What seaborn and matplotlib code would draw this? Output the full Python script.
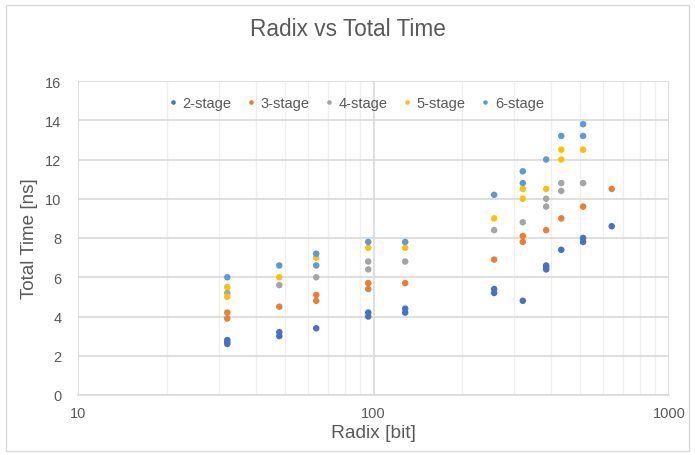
import matplotlib
matplotlib.use("Agg")
import matplotlib.pyplot as plt
import seaborn as sns
import pandas as pd
from matplotlib.patches import Rectangle
from matplotlib.ticker import LogLocator, FixedLocator, NullFormatter, FuncFormatter

# ---- data ----
series_names = ["2-stage", "3-stage", "4-stage", "5-stage", "6-stage"]
colors = ["#4472C4", "#ED7D31", "#A5A5A5", "#FFC000", "#5B9BD5"]

radix_2 = [32, 32, 32, 48, 48, 64, 96, 96, 128, 128, 256, 256, 320, 384, 384, 384, 432, 512, 512, 640]
time_2 = [2.8, 2.7, 2.6, 3.2, 3.0, 3.4, 4.2, 4.0, 4.4, 4.2, 5.4, 5.2, 4.8, 6.6, 6.5, 6.4, 7.4, 8.0, 7.8, 8.6]

radix_3 = [32, 32, 48, 64, 64, 96, 96, 128, 256, 320, 320, 384, 432, 512, 640]
time_3 = [4.2, 3.9, 4.5, 5.1, 4.8, 5.7, 5.4, 5.7, 6.9, 8.1, 7.8, 8.4, 9.0, 9.6, 10.5]

radix_4 = [32, 48, 64, 96, 96, 128, 256, 320, 384, 384, 432, 432, 512]
time_4 = [5.2, 5.6, 6.0, 6.8, 6.4, 6.8, 8.4, 8.8, 10.0, 9.6, 10.8, 10.4, 10.8]

radix_5 = [32, 32, 48, 64, 96, 128, 256, 320, 320, 384, 432, 432, 512]
time_5 = [5.5, 5.0, 6.0, 7.0, 7.5, 7.5, 9.0, 10.5, 10.0, 10.5, 12.5, 12.0, 12.5]

radix_6 = [32, 48, 64, 64, 96, 128, 256, 320, 320, 384, 432, 512, 512]
time_6 = [6.0, 6.6, 7.2, 6.6, 7.8, 7.8, 10.2, 11.4, 10.8, 12.0, 13.2, 13.8, 13.2]

x_ticks = [10, 100, 1000]
y_ticks = [0, 2, 4, 6, 8, 10, 12, 14, 16]

title = "Radix vs Total Time"
x_label = "Radix [bit]"
y_label = "Total Time [ns]"

# ---- build table ----
frames = []
for name, xs, ys in zip(series_names,
                        [radix_2, radix_3, radix_4, radix_5, radix_6],
                        [time_2, time_3, time_4, time_5, time_6]):
    frames.append(pd.DataFrame({"Radix": xs, "Time": ys, "Series": name}))
df = pd.concat(frames, ignore_index=True)

sns.set_theme(style="white")
plt.rcParams["font.family"] = ["Liberation Sans", "DejaVu Sans"]
text_color = "#595959"

fig = plt.figure(figsize=(6.95, 4.56), dpi=100)
ax = fig.add_axes([78 / 695, 60 / 456, (669 - 78) / 695, (396 - 82) / 456])

sns.scatterplot(data=df, x="Radix", y="Time", hue="Series", hue_order=series_names,
                palette=colors, s=22, linewidth=0, ax=ax, legend=True, zorder=3)

ax.set_xscale("log")
ax.set_xlim(10, 1000)
ax.set_ylim(0, 16)
ax.xaxis.set_major_locator(FixedLocator(x_ticks))
ax.xaxis.set_major_formatter(FuncFormatter(lambda v, p: f"{int(v)}"))
ax.xaxis.set_minor_locator(LogLocator(base=10, subs=range(2, 10)))
ax.xaxis.set_minor_formatter(NullFormatter())
ax.yaxis.set_major_locator(FixedLocator(y_ticks))

ax.grid(True, which="major", color="#d9d9d9", linewidth=1.2, zorder=0)
ax.grid(True, which="minor", axis="x", color="#efefef", linewidth=0.9, zorder=0)
ax.set_axisbelow(True)

for side in ["top", "right", "left"]:
    ax.spines[side].set_visible(False)
ax.spines["bottom"].set_color("#d9d9d9")
ax.spines["bottom"].set_linewidth(1.2)

ax.tick_params(axis="both", which="both", length=0, labelsize=10.5, colors=text_color)
ax.tick_params(axis="y", pad=12)
ax.tick_params(axis="x", pad=8)
ax.set_xlabel(x_label, fontsize=13.8, color=text_color, labelpad=3)
ax.set_ylabel(y_label, fontsize=13.6, color=text_color, labelpad=5)

fig.text(0.5, 1 - 30 / 456, title, ha="center", va="center", fontsize=16.3, color=text_color)

handles, labels = ax.get_legend_handles_labels()
ax.legend(handles, labels, loc="center", bbox_to_anchor=((356 - 78) / 591, (396 - 104) / 314),
          ncol=5, frameon=False, fontsize=10.5, labelcolor=text_color,
          handlelength=0.6, handletextpad=0.35, columnspacing=1.05, markerscale=0.7)

fig.add_artist(Rectangle((6 / 695, 4 / 456), 683 / 695, 446 / 456, transform=fig.transFigure,
                         fill=False, edgecolor="#d9d9d9", linewidth=1.0))

fig.savefig("out.png", dpi=100)
